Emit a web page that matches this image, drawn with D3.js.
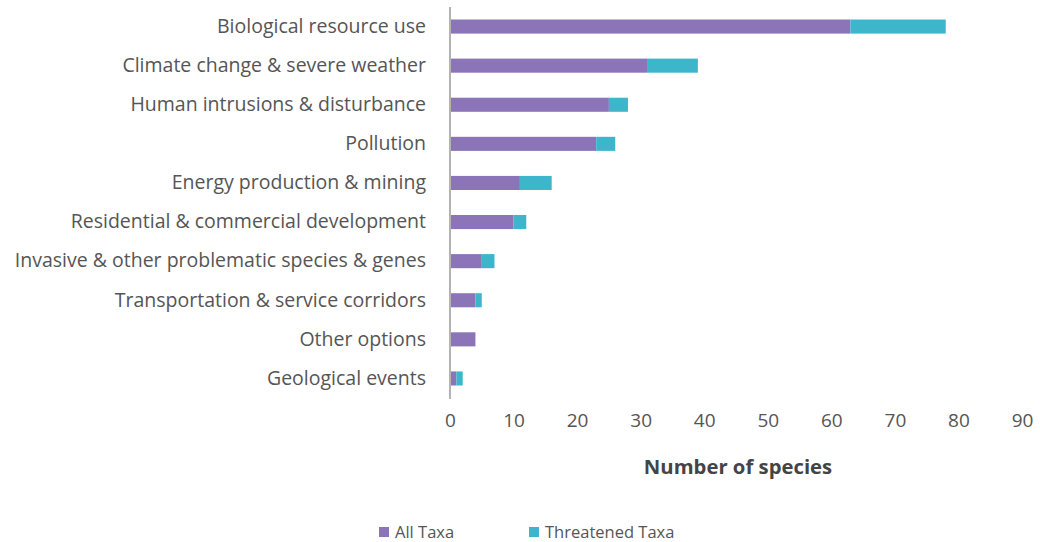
<!DOCTYPE html>
<html>
<head>
<meta charset="utf-8">
<script src="https://cdn.jsdelivr.net/npm/d3@7"></script>
<style>
  body { margin: 0; background: #fff; }
  text { font-family: "Open Sans", sans-serif; fill: #555; }
</style>
</head>
<body>
<div id="chart"></div>
<script>
// threats to species, stacked: all taxa + threatened taxa
const categories = [
    'Biological resource use',
    'Climate change & severe weather',
    'Human intrusions & disturbance',
    'Pollution',
    'Energy production & mining',
    'Residential & commercial development',
    'Invasive & other problematic species & genes',
    'Transportation & service corridors',
    'Other options',
    'Geological events'
];
const allTaxa =        [63, 31, 25, 23, 11, 10, 5, 4, 4, 1];
const threatenedTaxa = [15,  8,  3,  3,  5,  2, 2, 1, 0, 1];
const xTicks = [0, 10, 20, 30, 40, 50, 60, 70, 80, 90];
const seriesNames = ['All Taxa', 'Threatened Taxa'];
const colors = ['#8b74b8', '#3db6cc'];

const width = 1040, height = 542;
const margin = {top: 7, right: 18, bottom: 144, left: 450};
const font = '"Open Sans", sans-serif';

const svg = d3.select('#chart').append('svg')
    .attr('width', width)
    .attr('height', height);

const x = d3.scaleLinear()
    .domain([0, 90])
    .range([margin.left, width - margin.right]);

const y = d3.scaleBand()
    .domain(categories)
    .range([margin.top, height - margin.bottom])
    .paddingInner(0.64)
    .paddingOuter(0.32);

// stack the two series
const rows = categories.map((c, i) => ({cat: c, all: allTaxa[i], threatened: threatenedTaxa[i]}));
const stack = d3.stack().keys(['all', 'threatened'])(rows);

svg.append('g')
    .selectAll('g')
    .data(stack)
    .enter().append('g')
    .attr('fill', (d, i) => colors[i])
    .selectAll('rect')
    .data(d => d)
    .enter().append('rect')
    .attr('x', d => x(d[0]))
    .attr('y', d => y(d.data.cat))
    .attr('width', d => x(d[1]) - x(d[0]))
    .attr('height', y.bandwidth());

// y axis: line + category labels
const yAxis = svg.append('g')
    .attr('transform', `translate(${margin.left},0)`)
    .call(d3.axisLeft(y).tickSize(0).tickPadding(24));
yAxis.select('.domain').attr('stroke', '#b3b3b3').attr('stroke-width', 2)
    .attr('d', `M0,${margin.top}V${height - margin.bottom + 1}`);
yAxis.selectAll('text')
    .attr('font-size', 19.5)
    .style('font-family', font)
    .attr('fill', '#555');

// x axis: labels only
const xAxis = svg.append('g')
    .attr('transform', `translate(0,${height - margin.bottom})`)
    .call(d3.axisBottom(x).tickValues(xTicks).tickSize(0).tickPadding(16));
xAxis.select('.domain').remove();
xAxis.selectAll('text')
    .attr('font-size', 19)
    .style('font-family', font)
    .attr('fill', '#555');

svg.append('text')
    .attr('x', (x(0) + x(90)) / 2 + 2)
    .attr('y', 474)
    .attr('text-anchor', 'middle')
    .attr('font-size', 20.3)
    .attr('font-weight', 'bold')
    .style('fill', '#444')
    .text('Number of species');

// legend
const legendItems = [
    {name: seriesNames[0], color: colors[0], x: 379},
    {name: seriesNames[1], color: colors[1], x: 529}
];
const legend = svg.append('g').selectAll('g')
    .data(legendItems)
    .enter().append('g')
    .attr('transform', d => `translate(${d.x},${527})`);
legend.append('rect')
    .attr('width', 10).attr('height', 10)
    .attr('fill', d => d.color);
legend.append('text')
    .attr('x', 16).attr('y', 11)
    .attr('font-size', 16.5)
    .text(d => d.name);
</script>
</body>
</html>
